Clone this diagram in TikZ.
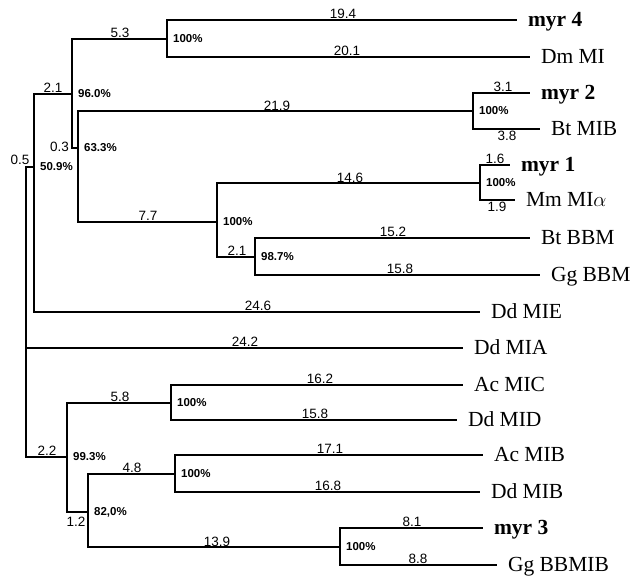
\documentclass[tikz,border=0pt]{standalone}
\usepackage{fontspec}
\setmainfont{Liberation Serif}
\newfontfamily\numfont{Liberation Sans}
\usepackage{tikz}

\begin{document}
\begin{tikzpicture}[
  x=1pt, y=-1pt,
  branch/.style={line width=1.2pt},
  leaf/.style={anchor=west, inner xsep=11pt, inner ysep=0pt, outer sep=0pt,
               text height=13pt, text depth=0pt, font=\fontsize{21.5}{23}\selectfont},
  myr/.style={leaf, font=\fontsize{21.5}{23}\selectfont\bfseries},
  blen/.style={anchor=south, inner sep=1.5pt, font=\numfont\fontsize{13.5}{14}\selectfont},
  boot/.style={anchor=west, inner sep=0pt, xshift=6pt, font=\numfont\bfseries\fontsize{11.5}{12}\selectfont}
]
  \useasboundingbox (0,5) rectangle (633,582);

  % inner nodes of the tree
  \coordinate (root) at (26,353);
  \coordinate (n1)   at (34,172);
  \coordinate (n2)   at (72,99);
  \coordinate (n3)   at (167,44);
  \coordinate (n4)   at (78,153);
  \coordinate (n5)   at (473,116);
  \coordinate (n6)   at (217,227);
  \coordinate (n7)   at (480,188);
  \coordinate (n8)   at (255,262);
  \coordinate (n9)   at (67,462);
  \coordinate (n10)  at (171,408);
  \coordinate (n11)  at (88,517);
  \coordinate (n12)  at (175,479);
  \coordinate (n13)  at (340,552);

  % leaves
  \node[myr]  (myr4)    at (517,25)  {myr 4};
  \node[leaf] (dmmi)    at (530,62)  {Dm MI};
  \node[myr]  (myr2)    at (530,98)  {myr 2};
  \node[leaf] (btmib)   at (540,134) {Bt MIB};
  \node[myr]  (myr1)    at (510,170) {myr 1};
  \node[leaf] (mmmia)   at (515,205) {Mm MI$\alpha$};
  \node[leaf] (btbbm)   at (530,243) {Bt BBM};
  \node[leaf] (ggbbm)   at (540,280) {Gg BBM};
  \node[leaf] (ddmie)   at (480,317) {Dd MIE};
  \node[leaf] (ddmia)   at (463,353) {Dd MIA};
  \node[leaf] (acmic)   at (463,390) {Ac MIC};
  \node[leaf] (ddmid)   at (457,425) {Dd MID};
  \node[leaf] (acmib)   at (483,460) {Ac MIB};
  \node[leaf] (ddmib)   at (480,497) {Dd MIB};
  \node[myr]  (myr3)    at (483,533) {myr 3};
  \node[leaf] (ggbbmib) at (497,570) {Gg BBMIB};

  % branches
  \draw[branch] (root) |- (n1);
  \draw[branch] (root) |- (ddmia);
  \draw[branch] (root) |- (n9);
  \draw[branch] (n1) |- (n2);
  \draw[branch] (n1) |- (ddmie);
  \draw[branch] (n2) |- (n3);
  \draw[branch] (n2) |- (n4);
  \draw[branch] (n3) |- (myr4);
  \draw[branch] (n3) |- (dmmi);
  \draw[branch] (n4) |- (n5);
  \draw[branch] (n4) |- (n6);
  \draw[branch] (n5) |- (myr2);
  \draw[branch] (n5) |- (btmib);
  \draw[branch] (n6) |- (n7);
  \draw[branch] (n6) |- (n8);
  \draw[branch] (n7) |- (myr1);
  \draw[branch] (n7) |- (mmmia);
  \draw[branch] (n8) |- (btbbm);
  \draw[branch] (n8) |- (ggbbm);
  \draw[branch] (n9) |- (n10);
  \draw[branch] (n9) |- (n11);
  \draw[branch] (n10) |- (acmic);
  \draw[branch] (n10) |- (ddmid);
  \draw[branch] (n11) |- (n12);
  \draw[branch] (n11) |- (n13);
  \draw[branch] (n12) |- (acmib);
  \draw[branch] (n12) |- (ddmib);
  \draw[branch] (n13) |- (myr3);
  \draw[branch] (n13) |- (ggbbmib);

  % bootstrap support
  \node[boot] (b1)  at (n1)  {50.9\%};
  \node[boot] (b2)  at (n2)  {96.0\%};
  \node[boot] (b3)  at (n3)  {100\%};
  \node[boot] (b4)  at (n4)  {63.3\%};
  \node[boot] (b5)  at (n5)  {100\%};
  \node[boot] (b6)  at (n6)  {100\%};
  \node[boot] (b7)  at (n7)  {100\%};
  \node[boot] (b8)  at (n8)  {98.7\%};
  \node[boot] (b9)  at (n9)  {99.3\%};
  \node[boot] (b10) at (n10) {100\%};
  \node[boot] (b11) at (n11) {82,0\%};
  \node[boot] (b12) at (n12) {100\%};
  \node[boot] (b13) at (n13) {100\%};

  % branch lengths
  \node[blen] (l1)  at (20,171)  {0.5};
  \node[blen] (l2)  at (53,99)   {2.1};
  \node[blen] (l3)  at (120,44)  {5.3};
  \node[blen] (l4)  at (343,25)  {19.4};
  \node[blen] (l5)  at (347,62)  {20.1};
  \node[blen, anchor=east, inner sep=0pt] (l6) at (69,152) {0.3};
  \node[blen] (l7)  at (277,117) {21.9};
  \node[blen] (l8)  at (503,98)  {3.1};
  \node[blen, anchor=north] (l9) at (507,134) {3.8};
  \node[blen] (l10) at (148,227) {7.7};
  \node[blen] (l11) at (350,189) {14.6};
  \node[blen] (l12) at (495,170) {1.6};
  \node[blen, anchor=north] (l13) at (497,205) {1.9};
  \node[blen] (l14) at (237,262) {2.1};
  \node[blen] (l15) at (393,243) {15.2};
  \node[blen] (l16) at (400,280) {15.8};
  \node[blen] (l17) at (258,317) {24.6};
  \node[blen] (l18) at (245,353) {24.2};
  \node[blen] (l19) at (47,462)  {2.2};
  \node[blen] (l20) at (120,408) {5.8};
  \node[blen] (l21) at (320,390) {16.2};
  \node[blen] (l22) at (315,425) {15.8};
  \node[blen, anchor=north] (l23) at (76,520) {1.2};
  \node[blen] (l24) at (132,479) {4.8};
  \node[blen] (l25) at (330,460) {17.1};
  \node[blen] (l26) at (328,497) {16.8};
  \node[blen] (l27) at (217,553) {13.9};
  \node[blen] (l28) at (412,533) {8.1};
  \node[blen] (l29) at (418,570) {8.8};
\end{tikzpicture}
\end{document}
